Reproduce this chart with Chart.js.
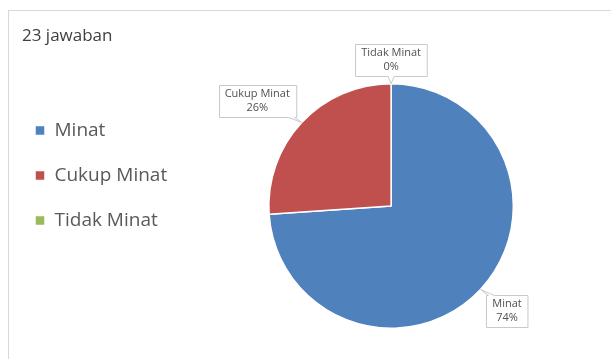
<!DOCTYPE html>
<html>
<head>
<meta charset="utf-8">
<script src="https://cdn.jsdelivr.net/npm/chart.js@4.4.0/dist/chart.umd.min.js"></script>
<style>
  body { margin: 0; background: #fff; }
  #frame {
    position: absolute; left: 8px; top: 10px; width: 603px; height: 349px;
    border-left: 1px solid #d9d9d9; border-top: 1px solid #d9d9d9;
  }
  #title {
    position: absolute; left: 13px; top: 12px;
    font: 17px "Open Sans", sans-serif; color: #404040;
  }
  #wrap { position: absolute; left: 0; top: 0; width: 602px; height: 348px; }
</style>
</head>
<body>
<div id="frame">
  <div id="wrap"><canvas id="pieChart"></canvas></div>
  <div id="title">23 jawaban</div>
</div>
<script>
var categories = ['Minat', 'Cukup Minat', 'Tidak Minat'];
var responses = [17, 6, 0];
var sliceColors = ['#4F81BD', '#C0504D', '#9BBB59'];

// callout boxes next to each slice, like the office chart
function calloutPath(ctx, l, t, r, b, ax, ay) {
    var above = ay < t, below = ay > b;
    var bx = Math.min(Math.max(ax, l + 5), r - 5);
    ctx.beginPath();
    ctx.moveTo(l, t);
    if (above) { ctx.lineTo(bx - 3, t); ctx.lineTo(ax, ay); ctx.lineTo(bx + 3, t); }
    ctx.lineTo(r, t);
    ctx.lineTo(r, b);
    if (below) { ctx.lineTo(bx + 3, b); ctx.lineTo(ax, ay); ctx.lineTo(bx - 3, b); }
    ctx.lineTo(l, b);
    ctx.closePath();
}

var calloutLabels = {
    id: 'calloutLabels',
    afterDatasetsDraw: function (chart) {
        var ctx = chart.ctx;
        var meta = chart.getDatasetMeta(0);
        var data = chart.data.datasets[0].data;
        var total = data.reduce(function (a, b) { return a + b; }, 0);
        ctx.save();
        ctx.font = '11px "Open Sans"';
        ctx.textAlign = 'center';
        ctx.textBaseline = 'middle';
        meta.data.forEach(function (arc, i) {
            var p = arc.getProps(['x', 'y', 'startAngle', 'endAngle', 'outerRadius'], true);
            var mid = (p.startAngle + p.endAngle) / 2;
            var cos = Math.cos(mid), sin = Math.sin(mid);
            var ax = p.x + cos * p.outerRadius, ay = p.y + sin * p.outerRadius;
            var lines = [chart.data.labels[i], Math.round(data[i] / total * 100) + '%'];
            var w = Math.max(ctx.measureText(lines[0]).width, ctx.measureText(lines[1]).width) + 12;
            var h = 32, gap = 8;
            var cx = ax + cos * gap + (Math.abs(cos) > 0.2 ? Math.sign(cos) * w / 2 : 0);
            var cy = ay + sin * gap + (Math.abs(sin) > 0.2 ? Math.sign(sin) * h / 2 : 0);
            var l = Math.round(cx - w / 2) + 0.5, t = Math.round(cy - h / 2) + 0.5;
            calloutPath(ctx, l, t, l + w, t + h, ax, ay);
            ctx.fillStyle = '#ffffff';
            ctx.fill();
            ctx.strokeStyle = '#c9c9c9';
            ctx.lineWidth = 1;
            ctx.stroke();
            ctx.fillStyle = '#505050';
            ctx.fillText(lines[0], cx, cy - 7);
            ctx.fillText(lines[1], cx, cy + 7);
        });
        ctx.restore();
    }
};

var ctx = document.getElementById('pieChart').getContext('2d');
var myChart = new Chart(ctx, {
    type: 'pie',
    data: {
        labels: categories,
        datasets: [{
            data: responses,
            backgroundColor: sliceColors,
            borderColor: '#ffffff',
            borderWidth: 1.5
        }]
    },
    options: {
        responsive: true,
        maintainAspectRatio: false,
        animation: false,
        layout: { padding: { top: 72, bottom: 30, left: 0, right: 6 } },
        plugins: {
            tooltip: { enabled: false },
            legend: {
                position: 'left',
                align: 'start',
                title: { display: true, text: '', font: { size: 10 }, padding: 0 },
                labels: {
                    boxWidth: 10,
                    boxHeight: 10,
                    padding: 26,
                    color: '#595959',
                    font: { family: '"Open Sans"', size: 19 }
                }
            }
        }
    },
    plugins: [calloutLabels]
});
</script>
</body>
</html>
